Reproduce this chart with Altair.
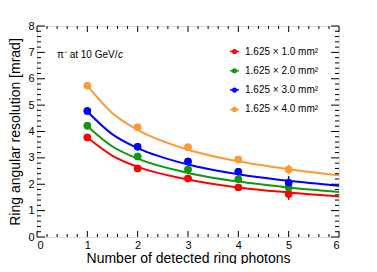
import altair as alt
import pandas as pd

# ---- data ----
nphot = [1, 2, 3, 4, 5]
res_10 = [3.77, 2.60, 2.22, 1.88, 1.63]
res_20 = [4.22, 3.05, 2.56, 2.19, 1.88]
res_30 = [4.78, 3.42, 2.86, 2.48, 2.06]
res_40 = [5.74, 4.16, 3.40, 2.94, 2.56]
err_10 = [0.05, 0.05, 0.05, 0.06, 0.23]
err_20 = [0.05, 0.05, 0.05, 0.06, 0.20]
err_30 = [0.05, 0.05, 0.05, 0.06, 0.25]
err_40 = [0.05, 0.05, 0.05, 0.06, 0.18]

fit_x = [1, 1.5, 2, 3, 4, 5, 6]
fit_10 = [3.77, 3.08, 2.66, 2.18, 1.88, 1.69, 1.54]
fit_20 = [4.20, 3.43, 2.97, 2.43, 2.10, 1.88, 1.71]
fit_30 = [4.76, 3.89, 3.37, 2.75, 2.38, 2.13, 1.94]
fit_40 = [5.74, 4.69, 4.06, 3.31, 2.87, 2.57, 2.34]

labels = ["1.625 × 1.0 mm²", "1.625 × 2.0 mm²", "1.625 × 3.0 mm²", "1.625 × 4.0 mm²"]
colors = ["#ff0000", "#0f990f", "#0000ff", "#ff9933"]

x_major = [0, 1, 2, 3, 4, 5, 6]
y_major = [0, 1, 2, 3, 4, 5, 6, 7, 8]

W, H = 302, 211
FONT = "Liberation Sans"

rows = []
for lab, ys, es in zip(labels, [res_10, res_20, res_30, res_40], [err_10, err_20, err_30, err_40]):
    for x, y, e in zip(nphot, ys, es):
        rows.append({"n": x, "res": y, "lo": y - e, "hi": y + e, "size": lab})
pts = pd.DataFrame(rows)

frows = []
for lab, ys in zip(labels, [fit_10, fit_20, fit_30, fit_40]):
    for x, y in zip(fit_x, ys):
        frows.append({"n": x, "res": y, "size": lab})
fits = pd.DataFrame(frows)

xs = alt.Scale(domain=[0, 6], nice=False, zero=False)
ys_ = alt.Scale(domain=[0, 8], nice=False, zero=False)
cscale = alt.Scale(domain=labels, range=colors)

xaxis = alt.Axis(values=x_major, ticks=False, tickSize=0, domain=False, grid=False,
                 labelFontSize=11, labelPadding=2, labelFont=FONT, labelColor="black",
                 labelOverlap=False, tickCount=7,
                 title="Number of detected ring photons", titleFont=FONT, titleFontSize=14,
                 titleFontWeight="normal", titleColor="black", titleBaseline="alphabetic",
                 titleY=25, titleX=W / 2, format="d")
yaxis = alt.Axis(values=y_major, ticks=False, tickSize=0, domain=False, grid=False,
                 labelFontSize=11, labelPadding=3, labelFont=FONT, labelColor="black",
                 labelOverlap=False, tickCount=9,
                 title="Ring angular resolution [mrad]", titleFont=FONT, titleFontSize=14,
                 titleFontWeight="normal", titleColor="black", titleBaseline="alphabetic",
                 titleX=-18, titleY=H / 2, titleAngle=-90, format="d")

legend_path = "M-1,0L1,0M0.4,0A0.4,0.4,0,1,1,-0.4,0A0.4,0.4,0,1,1,0.4,0Z"
leg = alt.Legend(orient="none", legendX=192, legendY=20,
                 symbolType=legend_path, symbolSize=81,
                 symbolStrokeWidth=1.5, rowPadding=8.3,
                 labelFont=FONT, labelFontSize=10, labelColor="black",
                 labelOffset=5, symbolOpacity=1, title=None)

X = alt.X("n:Q", scale=xs, axis=xaxis)
Y = alt.Y("res:Q", scale=ys_, axis=yaxis)
C = alt.Color("size:N", scale=cscale, legend=leg)

points_leg = alt.Chart(pts).mark_point(filled=True, size=55, opacity=1, shape="circle").encode(
    x=X, y=Y, color=C)

lines = alt.Chart(fits).mark_line(interpolate="monotone", strokeWidth=2).encode(
    x=X, y=Y, color=C, detail="size:N")

errs = alt.Chart(pts).mark_rule(strokeWidth=1.5).encode(
    x=X, y=alt.Y("lo:Q", scale=ys_, axis=yaxis), y2="hi:Q", color=C)

points = alt.Chart(pts).mark_point(filled=True, size=55, opacity=1, shape="circle").encode(
    x=X, y=Y, color=C)

# inner ticks (ROOT style)
xmin = [round(i * 0.2, 1) for i in range(31) if i % 5 != 0]
ymin = [round(i * 0.2, 1) for i in range(41) if i % 5 != 0]
dfxM = pd.DataFrame({"n": x_major})
dfxm = pd.DataFrame({"n": xmin})
dfyM = pd.DataFrame({"res": y_major})
dfym = pd.DataFrame({"res": ymin})

def xt(df, L):
    b = alt.Chart(df).mark_rule(color="black", strokeWidth=1).encode(
        x=X, y=alt.value(H), y2=alt.value(H - L))
    t = alt.Chart(df).mark_rule(color="black", strokeWidth=1).encode(
        x=X, y=alt.value(0), y2=alt.value(L))
    return b + t

def yt(df, L):
    l = alt.Chart(df).mark_rule(color="black", strokeWidth=1).encode(
        y=Y, x=alt.value(0), x2=alt.value(L))
    r = alt.Chart(df).mark_rule(color="black", strokeWidth=1).encode(
        y=Y, x=alt.value(W), x2=alt.value(W - L))
    return l + r

ticks = xt(dfxM, 6) + xt(dfxm, 3) + yt(dfyM, 8) + yt(dfym, 4)

ann1 = alt.Chart(pd.DataFrame({"t": ["π⁻ at 10 GeV/"]})).mark_text(
    font=FONT, fontSize=10, align="left", baseline="alphabetic", color="black"
).encode(x=alt.value(20), y=alt.value(32), text="t:N")
ann2 = alt.Chart(pd.DataFrame({"t": ["c"]})).mark_text(
    font=FONT, fontSize=10, fontStyle="italic", align="left", baseline="alphabetic", color="black"
).encode(x=alt.value(81), y=alt.value(32), text="t:N")

chart = alt.layer(points_leg, lines, errs, points, ticks, ann1, ann2).properties(
    width=W, height=H,
    autosize=alt.AutoSizeParams(type="none"),
    padding={"left": 29, "top": 18, "right": 30, "bottom": 27},
).configure_view(stroke="black", strokeWidth=1).configure(background="white")

chart.save("out.html", embed_options={"renderer": "svg", "actions": False})
